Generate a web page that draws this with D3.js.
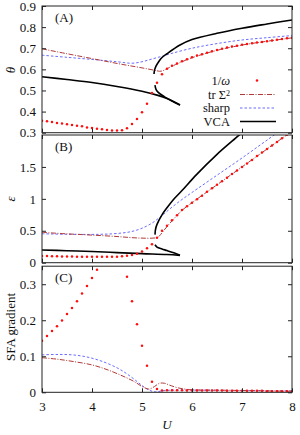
<!DOCTYPE html>
<html><head><meta charset="utf-8">
<script src="https://cdn.jsdelivr.net/npm/d3@7"></script>
<style>body{margin:0;background:#fff}svg{display:block}text{font-family:"Liberation Serif","Times New Roman",serif;fill:#111}</style>
</head><body>
<script>
// ---------- data ----------
const dotU = [3.0,3.1,3.2,3.3,3.4,3.5,3.6,3.7,3.8,3.9,4.0,4.1,4.2,4.3,4.4,4.5,4.6,4.7,4.8,4.9,5.0,5.1,5.2,5.3,5.4,5.5,5.6,5.7,5.8,5.9,6.0,6.1,6.2,6.3,6.4,6.5,6.6,6.7,6.8,6.9,7.0,7.1,7.2,7.3,7.4,7.5,7.6,7.7,7.8,7.9,8.0];
// 1/omega (red dots)
const thetaDots = [0.357,0.354,0.351,0.346,0.343,0.340,0.336,0.333,0.330,0.325,0.322,0.319,0.316,0.313,0.311,0.310,0.312,0.321,0.341,0.365,0.397,0.437,0.488,0.537,0.577,0.603,0.617,0.628,0.638,0.648,0.657,0.665,0.672,0.679,0.686,0.692,0.698,0.703,0.708,0.712,0.716,0.720,0.724,0.727,0.730,0.733,0.737,0.740,0.744,0.747,0.750];
const epsDots = [0.105,0.104,0.102,0.100,0.099,0.097,0.096,0.095,0.094,0.093,0.092,0.092,0.092,0.092,0.093,0.095,0.100,0.108,0.120,0.140,0.175,0.225,0.290,0.390,0.500,0.580,0.665,0.745,0.825,0.885,0.940,0.995,1.050,1.110,1.165,1.220,1.275,1.330,1.390,1.445,1.500,1.555,1.610,1.670,1.725,1.780,1.835,1.890,1.950,2.005,2.060];
const sfaDots = [0.143,0.156,0.170,0.183,0.199,0.217,0.234,0.253,0.274,0.295,0.317,0.340,null,null,null,null,null,0.321,0.253,0.189,0.129,0.074,0.029,0.009,0.005,0.006,0.006,0.006,0.006,0.005,0.005,0.005,0.005,0.005,0.005,0.005,0.005,0.004,0.004,0.004,0.004,0.004,0.004,0.004,0.004,0.003,0.003,0.003,0.003,0.003,0.003];

// tr Sigma^2 (brown dash-dot)
const thetaTr = [[3,0.697],[3.5,0.674],[4,0.651],[4.5,0.628],[5,0.607],[5.2,0.598],[5.3,0.593],[5.35,0.591],[5.4,0.592],[5.45,0.597],[5.5,0.603],[5.6,0.615],[5.8,0.636],[6.0,0.655],[6.5,0.690],[7,0.715],[7.5,0.733],[8,0.749]];
const epsTr = [[3,0.475],[3.5,0.452],[4,0.432],[4.5,0.41],[4.8,0.392],[5.0,0.385],[5.2,0.384],[5.3,0.395],[5.35,0.42],[5.4,0.47],[5.5,0.565],[5.6,0.655],[5.8,0.82],[6,0.94],[6.5,1.22],[7,1.50],[7.5,1.78],[8,2.06]];
const sfaTr = [[3,0.096],[3.3,0.092],[3.6,0.086],[4,0.076],[4.3,0.063],[4.6,0.046],[4.8,0.033],[4.9,0.025],[5,0.016],[5.1,0.010],[5.15,0.009],[5.25,0.016],[5.35,0.025],[5.45,0.025],[5.55,0.020],[5.7,0.013],[5.85,0.009],[6,0.007],[6.5,0.006],[7,0.005],[7.5,0.004],[8,0.003]];

// sharp (blue dashed)
const thetaSharp = [[3,0.667],[3.5,0.657],[4,0.647],[4.5,0.636],[4.8,0.629],[5.0,0.636],[5.2,0.649],[5.4,0.662],[5.6,0.676],[6.0,0.700],[6.5,0.722],[7,0.739],[7.5,0.750],[8,0.760]];
const epsSharp = [[3,0.453],[3.5,0.445],[4,0.443],[4.3,0.448],[4.6,0.465],[4.8,0.49],[5.0,0.54],[5.2,0.62],[5.4,0.74],[5.6,0.87],[5.8,0.99],[6,1.10],[6.5,1.37],[7,1.64],[7.5,1.92],[8,2.2]];
const sfaSharp = [[3,0.104],[3.3,0.105],[3.6,0.104],[3.9,0.098],[4.2,0.086],[4.5,0.068],[4.7,0.051],[4.9,0.030],[5.0,0.019],[5.1,0.009],[5.2,0.003],[5.28,0.001],[5.4,0.004],[5.6,0.006],[6,0.006],[7,0.005],[8,0.004]];

// VCA (black), three branches
const thetaVcaLower = [[3,0.565],[3.5,0.552],[4,0.538],[4.5,0.519],[5,0.496],[5.3,0.478],[5.5,0.462],[5.76,0.431]];
const thetaVcaMid = [[5.26,0.525],[5.28,0.505],[5.33,0.49],[5.45,0.47],[5.6,0.45],[5.76,0.431]];
const thetaVcaUpper = [[5.24,0.578],[5.25,0.595],[5.28,0.615],[5.33,0.635],[5.4,0.656],[5.5,0.674],[5.76,0.715],[6.0,0.741],[6.5,0.771],[7.0,0.795],[7.5,0.815],[8,0.834]];
const epsVcaLower = [[3,0.2],[3.5,0.188],[4,0.175],[4.5,0.158],[5,0.142],[5.5,0.128],[5.76,0.115]];
const epsVcaMid = [[5.26,0.28],[5.3,0.245],[5.4,0.215],[5.5,0.19],[5.65,0.15],[5.76,0.115]];
const epsVcaUpper = [[5.26,0.44],[5.27,0.52],[5.3,0.6],[5.4,0.75],[5.5,0.86],[5.63,0.99],[5.8,1.13],[6.09,1.38],[6.49,1.69],[6.93,1.99],[7.0,2.04]];

const xTicks = [3,4,5,6,7,8];
const thetaTicks = [0.3,0.4,0.5,0.6,0.7,0.8,0.9];
const epsTicks = [0,0.5,1,1.5];
const sfaTicks = [0,0.1,0.2,0.3];
const legendLabels = ["1/ω","tr Σ2","sharp","VCA"];

// ---------- drawing ----------
const W = 300, H = 435;
const svg = d3.select("body").append("svg").attr("width", W).attr("height", H);
const x = d3.scaleLinear().domain([3,8]).range([42,292]);
const C_TR = "#b03a3a", C_SH = "#5a5aff", C_DOT = "#ff1010";

const panels = [
  {id:"A", dom:[0.3,0.9], rng:[132.7,6], ticks:thetaTicks, lab:"θ", labY:70, dots:thetaDots, tr:thetaTr, sh:thetaSharp, vca:[thetaVcaLower,thetaVcaMid,thetaVcaUpper], fmt:d3.format(".1f")},
  {id:"B", dom:[0,2], rng:[262.7,135], ticks:epsTicks, lab:"ε", labY:199, dots:epsDots, tr:epsTr, sh:epsSharp, vca:[epsVcaLower,epsVcaMid,epsVcaUpper], fmt:d=>d===0?"0":(d%1===0?String(d):d.toFixed(1))},
  {id:"C", dom:[0,0.35], rng:[392.3,266.2], ticks:sfaTicks, lab:"SFA gradient", labY:327, dots:sfaDots, tr:sfaTr, sh:sfaSharp, vca:null, fmt:d=>d===0?"0":d.toFixed(1)}
];

panels.forEach((p,i) => {
  const y = d3.scaleLinear().domain(p.dom).range(p.rng);
  const top = p.rng[1], bot = p.rng[0];
  const clipId = "clip"+p.id;
  svg.append("clipPath").attr("id", clipId).append("rect")
    .attr("x", 42).attr("y", top).attr("width", 250).attr("height", bot-top);
  const g = svg.append("g").attr("clip-path", `url(#${clipId})`);
  const line = d3.line().x(d=>x(d[0])).y(d=>y(d[1])).curve(d3.curveCatmullRom.alpha(0.5));

  g.append("path").attr("d", line(p.sh)).attr("fill","none").attr("stroke",C_SH).attr("stroke-width",0.9).attr("stroke-dasharray","2.5,2");
  g.append("path").attr("d", line(p.tr)).attr("fill","none").attr("stroke",C_TR).attr("stroke-width",1).attr("stroke-dasharray","5,1.5,1,1.5");
  if (p.vca) p.vca.forEach(br => g.append("path").attr("d", line(br)).attr("fill","none").attr("stroke","#000").attr("stroke-width",1.6));
  const pts = dotU.map((u,k)=>[u,p.dots[k]]).filter(d=>d[1]!==null);
  g.selectAll("circle.d").data(pts).enter().append("circle")
    .attr("cx",d=>x(d[0])).attr("cy",d=>y(d[1])).attr("r",1.25).attr("fill",C_DOT);

  svg.append("rect").attr("x",42).attr("y",top).attr("width",250).attr("height",bot-top)
    .attr("fill","none").attr("stroke","#222").attr("stroke-width",1);
  const yAxL = svg.append("g").attr("transform","translate(42,0)")
    .call(d3.axisLeft(y).tickValues(p.ticks).tickSize(-4).tickPadding(6).tickFormat(p.fmt));
  const yAxR = svg.append("g").attr("transform","translate(292,0)")
    .call(d3.axisRight(y).tickValues(p.ticks).tickSize(-4).tickFormat(""));
  const xAxB = svg.append("g").attr("transform",`translate(0,${bot})`)
    .call(d3.axisBottom(x).tickValues(xTicks).tickSize(-4).tickPadding(9).tickFormat(i===2?d3.format("d"):""));
  const xAxT = svg.append("g").attr("transform",`translate(0,${top})`)
    .call(d3.axisTop(x).tickValues(xTicks).tickSize(-4).tickFormat(""));
  [yAxL,yAxR,xAxB,xAxT].forEach(a=>{
    a.select(".domain").remove();
    a.selectAll("line").attr("stroke","#222");
    a.selectAll("text").attr("font-family",'"Liberation Serif",serif').attr("font-size",13).attr("fill","#111");
  });
  svg.append("text").attr("x",55).attr("y",(top+11)).attr("dy","0.35em").attr("font-size",13).text(`(${p.id})`);
  svg.append("text").attr("transform",`translate(10,${p.labY}) rotate(-90)`).attr("text-anchor","middle")
    .attr("dy","0.35em").attr("font-size",13).attr("font-style", i<2?"italic":"normal").text(p.lab);
});

svg.append("text").attr("x",167).attr("y",424).attr("dy","0.35em").attr("text-anchor","middle")
  .attr("font-size",13).attr("font-style","italic").text("U");

// legend in panel A
const legY = [80.5,94.5,108,121.5];
const lg = svg.append("g");
legendLabels.forEach((lab,k)=>{
  const t = lg.append("text").attr("x",230).attr("y",legY[k]).attr("dy","0.35em").attr("text-anchor","end").attr("font-size",12.5);
  if (k===0){ t.append("tspan").text("1/"); t.append("tspan").attr("font-style","italic").text("ω"); }
  else if (k===1){ t.append("tspan").text("tr Σ"); t.append("tspan").attr("font-size",8).attr("dy","-0.35em").text("2"); }
  else t.text(lab);
});
lg.append("circle").attr("cx",257).attr("cy",legY[0]).attr("r",1.25).attr("fill",C_DOT);
lg.append("line").attr("x1",240).attr("x2",276).attr("y1",legY[1]).attr("y2",legY[1]).attr("stroke",C_TR).attr("stroke-width",1).attr("stroke-dasharray","5,1.5,1,1.5");
lg.append("line").attr("x1",240).attr("x2",276).attr("y1",legY[2]).attr("y2",legY[2]).attr("stroke",C_SH).attr("stroke-width",0.9).attr("stroke-dasharray","2.5,2");
lg.append("line").attr("x1",240).attr("x2",276).attr("y1",legY[3]).attr("y2",legY[3]).attr("stroke","#000").attr("stroke-width",1.6);
</script>
</body></html>
